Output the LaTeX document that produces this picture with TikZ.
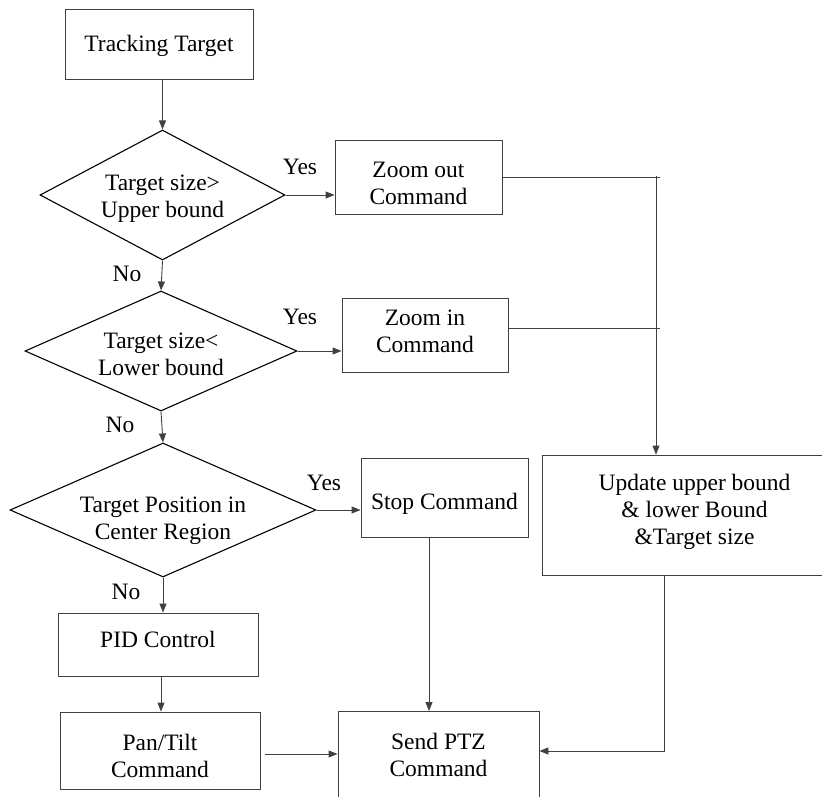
\documentclass[tikz,border=0pt]{standalone}
\usepackage{fontspec}
\setmainfont{Liberation Serif}
\usetikzlibrary{shapes.geometric,arrows.meta,calc}

\tikzset{
  box/.style={draw=black!75, line width=0.9pt, rectangle, inner sep=0pt},
  decision/.style={draw=black, line width=1.1pt, diamond, inner sep=0pt},
  btext/.style={align=center, inner sep=0pt, font=\fontsize{23.5}{27}\selectfont},
  lbl/.style={font=\fontsize{23.5}{27}\selectfont, inner sep=0pt},
  wire/.style={draw=black!75, line width=0.9pt},
  arr/.style={wire, -{Triangle[length=9pt,width=7pt]}}
}

\begin{document}
\begin{tikzpicture}[x=1pt,y=-1pt]
  \useasboundingbox (0,0) rectangle (822,796);
  \clip (0,0) rectangle (822,796);

  % process boxes (outlines)
  \node[box, minimum width=188, minimum height=70] (track) at (159,44) {};
  \node[box, minimum width=167, minimum height=74] (zout) at (418.5,177) {};
  \node[box, minimum width=166, minimum height=74] (zin) at (425,335) {};
  \node[box, minimum width=167, minimum height=79] (stop) at (444.5,497.5) {};
  \node[box, minimum width=305, minimum height=120] (upd) at (694.5,515) {};
  \node[box, minimum width=200, minimum height=63] (pid) at (158,644.5) {};
  \node[box, minimum width=200, minimum height=77] (pan) at (160,750.5) {};
  \node[box, minimum width=201, minimum height=88] (send) at (438.5,755) {};

  % box texts
  \node[btext] (trackt) at ([yshift=-2pt]track) {Tracking Target};
  \node[btext] (zoutt) at ([yshift=-6pt]zout) {Zoom out\\Command};
  \node[btext] (zint) at ([yshift=4pt]zin) {Zoom in\\Command};
  \node[btext] (stopt) at ([yshift=-6pt]stop) {Stop Command};
  \node[btext] (updt) at ([yshift=3pt]upd) {Update upper bound\\\& lower Bound\\\&Target size};
  \node[btext] (pidt) at ([yshift=5pt]pid) {PID Control};
  \node[btext] (pant) at ([yshift=-5pt]pan) {Pan/Tilt\\Command};
  \node[btext] (sendt) at (send) {Send PTZ\\Command};

  % decisions
  \node[decision, minimum width=245, minimum height=130] (d1) at (162.5,195) {};
  \node[btext] (d1t) at (162.5,199) {Target size>\\Upper bound};
  \node[decision, minimum width=272, minimum height=120] (d2) at (161,351) {};
  \node[btext] (d2t) at (161,354) {Target size<\\Lower bound};
  \node[decision, minimum width=306, minimum height=134] (d3) at (163,510) {};
  \node[btext] (d3t) at (163,521) {Target Position in\\Center Region};

  % main column
  \draw[arr] (d1.north |- track.south) -- (d1.north);
  \draw[arr] (d1.south) -- (d2.north);
  \draw[arr] (d2.south) -- (d3.north);
  \draw[arr] (d3.south) -- (d3.south |- pid.north);
  \draw[arr] ([xshift=3pt]pid.south) -- ([xshift=1pt]pan.north);

  % yes branches
  \draw[arr] (d1.east) -- (d1.east -| zout.west);
  \draw[arr] (d2.east) -- (d2.east -| zin.west);
  \draw[arr] (d3.east) -- (d3.east -| stop.west);

  % zoom commands join and feed the update box
  \coordinate (j1) at (660,177);
  \coordinate (j2) at (660,328);
  \coordinate (jtop) at (656,176);
  \draw[wire] (zout.east) -- (j1);
  \draw[wire] (zin.east |- j2) -- (j2);
  \draw[arr] (jtop) -- (jtop |- upd.north);

  % into Send PTZ
  \draw[arr] (429,537) -- (429,711);
  \coordinate (ub) at (664,575);
  \coordinate (uc) at (664,751);
  \draw[arr] (ub) -- (uc) -- (uc -| send.east);
  \coordinate (pa) at (265,754);
  \draw[arr] (pa) -- (pa -| send.west);

  % branch labels
  \node[lbl] (y1) at (300,167) {Yes};
  \node[lbl] (y2) at (300,317) {Yes};
  \node[lbl] (y3) at (324,483) {Yes};
  \node[lbl] (n1) at (127,274) {No};
  \node[lbl] (n2) at (120,425) {No};
  \node[lbl] (n3) at (126,592) {No};
\end{tikzpicture}
\end{document}
